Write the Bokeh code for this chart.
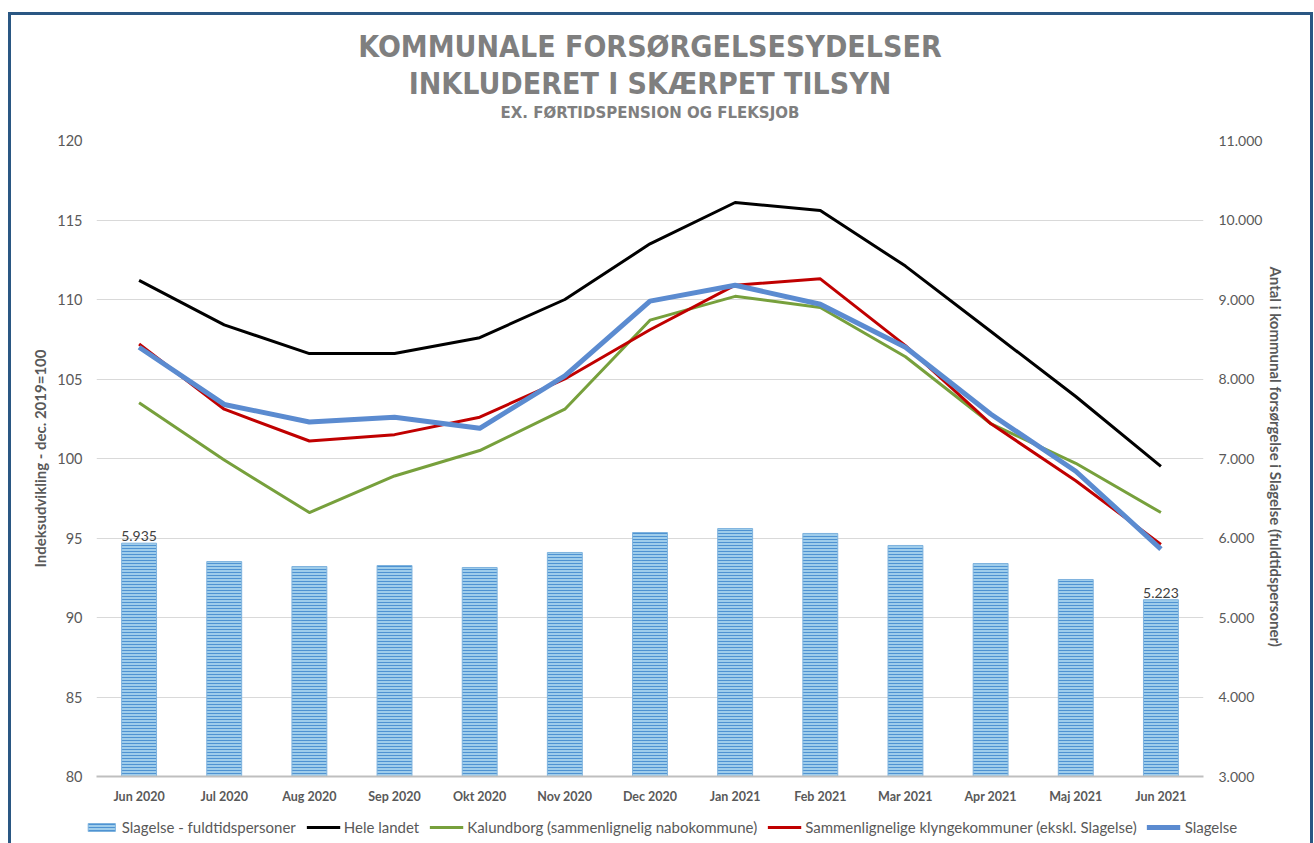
from bokeh.plotting import figure
from bokeh.layouts import column
from bokeh.models import (Range1d, LinearAxis, FixedTicker, Title, Legend, LegendItem,
                          ColumnDataSource)
from bokeh.core.properties import value
from bokeh.embed import file_html
from bokeh.resources import INLINE

months = ["Jun 2020", "Jul 2020", "Aug 2020", "Sep 2020", "Okt 2020", "Nov 2020",
          "Dec 2020", "Jan 2021", "Feb 2021", "Mar 2021", "Apr 2021", "Maj 2021", "Jun 2021"]
slagelse_ftp = [5935, 5704, 5641, 5654, 5629, 5818, 6069, 6119, 6057, 5906, 5679, 5478, 5223]
hele_landet = [111.2, 108.4, 106.6, 106.6, 107.6, 110.0, 113.5, 116.1, 115.6, 112.1, 108.0, 103.9, 99.5]
kalundborg = [103.5, 99.9, 96.6, 98.9, 100.5, 103.1, 108.7, 110.2, 109.5, 106.4, 102.2, 99.7, 96.6]
klynge = [107.2, 103.1, 101.1, 101.5, 102.6, 105.0, 108.1, 110.9, 111.3, 107.1, 102.2, 98.6, 94.6]
slagelse_idx = [107.0, 103.4, 102.3, 102.6, 101.9, 105.2, 109.9, 110.9, 109.7, 107.0, 102.8, 99.2, 94.3]
left_ticks = [80, 85, 90, 95, 100, 105, 110, 115, 120]
right_ticks = [3000, 4000, 5000, 6000, 7000, 8000, 9000, 10000, 11000]
legend_labels = ["Slagelse - fuldtidspersoner", "Hele landet",
                 "Kalundborg (sammenlignelig nabokommune)",
                 "Sammenlignelige klyngekommuner (ekskl. Slagelse)", "Slagelse"]

def dk(v):
    return f"{v:,}".replace(",", ".")

FONT = "Lato"
GRAY = "#595959"
TCOL = "#7F7F7F"
BORDER = "3px solid #2A5783"
TFONT = "DejaVu Sans Condensed"

BAR_STYLE = dict(fill_color="#9FCDEB", line_color="#7FB3DE", line_width=1,
                 hatch_pattern="horizontal_line", hatch_color="#4F93D2", hatch_scale=3, hatch_weight=1)
LINE_STYLES = [dict(line_color="#000000", line_width=3, line_join="round"),
               dict(line_color="#77A03C", line_width=3, line_join="round"),
               dict(line_color="#C00000", line_width=3, line_join="round"),
               dict(line_color="#5B8BD0", line_width=5, line_join="round")]
SERIES = [hele_landet, kalundborg, klynge, slagelse_idx]

p = figure(x_range=months, y_range=Range1d(80, 120), width=1299, height=795,
           output_backend="svg", toolbar_location=None,
           min_border_left=85, min_border_right=107, min_border_top=125, min_border_bottom=34)
p.extra_y_ranges = {"right": Range1d(3000, 11000)}
p.outline_line_color = None
p.xgrid.grid_line_color = None
p.ygrid.grid_line_color = "#D9D9D9"
p.ygrid.ticker = FixedTicker(ticks=left_ticks)

# bottom x axis (take the reference before any other x axis is added)
xa = p.xaxis[0]
xa.axis_line_color = "#BFBFBF"
xa.axis_line_width = 2
xa.major_tick_out = 0
xa.major_tick_in = 0
xa.major_tick_line_color = None
xa.minor_tick_line_color = None
xa.major_label_text_font = FONT
xa.major_label_text_font_size = "12.5px"
xa.major_label_text_font_style = "bold"
xa.major_label_text_color = GRAY
xa.major_label_standoff = 12

# subtitle as the label of a tick-less axis directly above the frame
sub = LinearAxis(ticker=FixedTicker(ticks=[]),
                 axis_label="EX. FØRTIDSPENSION OG FLEKSJOB",
                 axis_label_text_font="DejaVu Sans", axis_label_text_font_style="bold",
                 axis_label_text_font_size="15px", axis_label_text_color=TCOL,
                 axis_label_standoff=19, axis_line_color=None, major_tick_line_color=None,
                 minor_tick_line_color=None, major_tick_out=0, major_tick_in=0,
                 minor_tick_out=0, minor_tick_in=0, major_label_standoff=12)
p.add_layout(sub, "above")
p.add_layout(Title(text="INKLUDERET I SKÆRPET TILSYN", align="center",
                   text_font=TFONT, text_font_style="bold",
                   text_font_size="30px", text_color=TCOL, standoff=0), "above")
p.title.text = "KOMMUNALE FORSØRGELSESYDELSER"
p.title.align = "center"
p.title.text_font = TFONT
p.title.text_font_style = "bold"
p.title.text_font_size = "30px"
p.title.text_color = TCOL
p.title.standoff = 0

# left axis
la = p.yaxis[0]
la.ticker = FixedTicker(ticks=left_ticks)
la.axis_label = "Indeksudvikling - dec. 2019=100"
la.axis_label_text_font = FONT
la.axis_label_text_font_style = "bold"
la.axis_label_text_font_size = "15px"
la.axis_label_text_color = GRAY
la.axis_label_standoff = 5
la.major_label_text_font = FONT
la.major_label_text_font_size = "14.5px"
la.major_label_text_color = GRAY
la.major_label_standoff = 14
la.major_tick_out = 0
la.major_tick_in = 0
la.axis_line_color = None
la.major_tick_line_color = None
la.minor_tick_line_color = None

# right axis
ra = LinearAxis(y_range_name="right", ticker=FixedTicker(ticks=right_ticks),
                major_label_overrides={t: dk(t) for t in right_ticks})
ra.axis_label = "Antal i kommunal forsørgelse  i Slagelse (fuldtidspersoner)"
ra.axis_label_text_font = FONT
ra.axis_label_text_font_style = "bold"
ra.axis_label_text_font_size = "15px"
ra.axis_label_text_color = GRAY
ra.axis_label_standoff = 2
ra.major_label_text_font = FONT
ra.major_label_text_font_size = "14px"
ra.major_label_text_color = GRAY
ra.major_label_standoff = 15
ra.major_tick_out = 0
ra.major_tick_in = 0
ra.axis_line_color = None
ra.major_tick_line_color = None
ra.minor_tick_line_color = None
p.add_layout(ra, "right")

src = ColumnDataSource(dict(m=months, v=slagelse_ftp))
p.vbar(x="m", top="v", bottom=3000, width=0.41, source=src, y_range_name="right", **BAR_STYLE)

lsrc = ColumnDataSource(dict(m=[months[0], months[-1]], v=[slagelse_ftp[0], slagelse_ftp[-1]],
                             lab=[dk(slagelse_ftp[0]), dk(slagelse_ftp[-1])]))
p.text(x="m", y="v", text="lab", source=lsrc, y_range_name="right", text_align="center",
       text_baseline="bottom", y_offset=-2, text_font=value(FONT), text_font_size="14px",
       text_color="#404040")

for series, st in zip(SERIES, LINE_STYLES):
    p.line(months, series, **st)

# legend strip: a second figure below the chart; its renderers carry the same series
# (outside its visible range) so that the legend shows the matching swatches
p2 = figure(x_range=months, y_range=Range1d(50000, 50001), frame_width=1299, frame_height=33,
            output_backend="svg", toolbar_location=None, min_border=0,
            min_border_left=0, min_border_right=0, min_border_top=0, min_border_bottom=0,
            x_axis_location=None, y_axis_location=None)
p2.outline_line_color = None
p2.xgrid.visible = False
p2.ygrid.visible = False
r_bar = p2.vbar(x="m", top="v", bottom=3000, width=0.41, source=src, **BAR_STYLE)
r_lines = [p2.line(months, series, **st) for series, st in zip(SERIES, LINE_STYLES)]
legend = Legend(items=[LegendItem(label=lab, renderers=[r])
                       for lab, r in zip(legend_labels, [r_bar] + r_lines)],
                orientation="horizontal", location="center", border_line_color=None,
                background_fill_alpha=0, label_text_font=FONT, label_text_font_size="15px",
                label_text_color=GRAY, glyph_width=34, glyph_height=10, label_standoff=4,
                spacing=10, padding=0, margin=0)
p2.add_layout(legend, "center")

layout = column(p, p2, spacing=0,
                styles={"margin": "12px 0px 0px 8px", "border-top": BORDER,
                        "border-left": BORDER, "border-right": BORDER})

open("out.html", "w").write(file_html(layout, INLINE))
